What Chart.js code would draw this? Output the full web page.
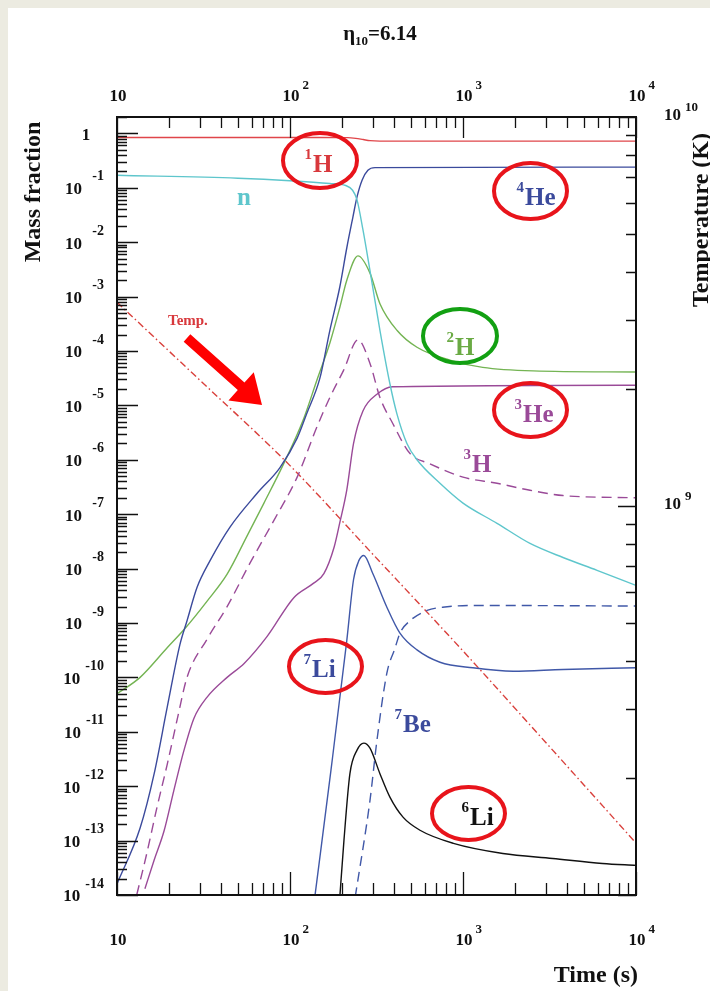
<!DOCTYPE html>
<html>
<head>
<meta charset="utf-8">
<title>BBN abundances</title>
<script src="https://cdn.jsdelivr.net/npm/chart.js@4.4.1/dist/chart.umd.min.js"></script>
<style>
    html, body { margin: 0; padding: 0; background: #ecebe1; }
    canvas { display: block; }
</style>
</head>
<body>
<canvas id="bbn" width="710" height="991"></canvas>
<script>
// ========================================
// Data: [time (s), mass fraction]
// ========================================
const hydrogen = [[10, 0.84], [150, 0.84], [215, 0.835], [240, 0.81], [265, 0.77], [290, 0.735], [330, 0.72], [10000, 0.72]];
const neutron = [[10, 0.17], [50, 0.15], [100, 0.135], [170, 0.12], [210, 0.11], [230, 0.09], [244, 0.06], [264, 0.017], [290, 3e-3],
    [331, 2.4e-4], [378, 2.5e-5], [415, 7e-6], [474, 2e-6], [542, 1e-6], [736, 3.7e-7], [1000, 1.6e-7], [1573, 6.8e-8],
    [2440, 2.9e-8], [3785, 1.6e-8], [5955, 9.3e-9], [10000, 4.9e-9]];
const helium4 = [[10, 1.6e-14], [13.6, 1.7e-13], [16.4, 1.7e-12], [19.5, 2.8e-11], [23.1, 4e-10], [25.4, 1.1e-9],
    [29, 4.5e-9], [34.5, 1.4e-8], [45, 5.8e-8], [64.4, 2.4e-7], [87.5, 7.2e-7], [110, 2.5e-6], [125, 7.1e-6], [149, 3.2e-5],
    [170, 2.4e-4], [194, 1.5e-3], [213, 7.9e-3], [231, 0.029], [244, 0.068], [261, 0.138], [282, 0.21], [310, 0.235], [10000, 0.24]];
const deuterium = [[10, 5e-11], [13.6, 1e-10], [19.5, 3.5e-10], [24.7, 7.9e-10], [33.1, 2.5e-9], [43.3, 7.9e-9], [56.5, 4e-8],
    [70.7, 1.6e-7], [92, 8.5e-7], [118.7, 5.2e-6], [143, 2.9e-5], [170, 1.4e-4], [194, 6.3e-4], [213, 2e-3], [247, 5.6e-3],
    [290, 2.7e-3], [331, 7.4e-4], [415, 2.4e-4], [542, 1.17e-4], [839, 6.8e-5], [1300, 5e-5], [2540, 4.3e-5], [10000, 4.1e-5]];
const tritium = [[13, 1e-14], [14.9, 6e-14], [17, 4e-13], [19.5, 2.5e-12], [22.2, 1.6e-11], [25.4, 1e-10], [33.1, 5e-10],
    [43.3, 2e-9], [58.7, 1.26e-8], [80.9, 7.8e-8], [110, 4.8e-7], [143, 4e-6], [170, 1.4e-5], [204, 4.4e-5], [247, 1.6e-4],
    [290, 5.9e-5], [331, 1.4e-5], [392, 4.7e-6], [494, 1.3e-6], [640, 8.5e-7], [1000, 4.8e-7], [1573, 3.7e-7], [2440, 2.75e-7],
    [3785, 2.2e-7], [10000, 2e-7]];
const helium3 = [[14.5, 1.3e-14], [16.4, 4.4e-14], [18.7, 1.5e-13], [21.3, 8.3e-13], [24.4, 4.6e-12], [27.9, 1.8e-11],
    [33.1, 4.3e-11], [43.3, 1e-10], [54.3, 1.8e-10], [73.6, 5.6e-10], [105.5, 2.95e-9], [137, 5.4e-9], [157, 8.1e-9],
    [180, 2.5e-8], [194, 7e-8], [213, 2.8e-7], [233, 2e-6], [264, 7.9e-6], [318, 1.6e-5], [392, 2.2e-5], [10000, 2.35e-5]];
const lithium7 = [[139, 9e-15], [172.6, 2e-12], [213, 4.8e-10], [233, 6.3e-9], [250, 1.4e-8], [267, 1.74e-8], [301, 8.1e-9],
    [363, 1.95e-9], [432, 6.5e-10], [542, 3.2e-10], [736, 1.9e-10], [1140, 1.5e-10], [1950, 1.3e-10], [3785, 1.4e-10], [10000, 1.5e-10]];
const beryllium7 = [[238, 9e-15], [290, 5.5e-13], [318, 6.9e-12], [363, 1.2e-10], [404, 3.4e-10], [432, 6.5e-10], [494, 1.1e-9],
    [620, 1.7e-9], [763, 1.95e-9], [1255, 2.1e-9], [10000, 2.05e-9]];
const lithium6 = [[194, 9e-15], [205, 1e-13], [222, 1.7e-12], [244, 4.6e-12], [267, 6.2e-12], [290, 5e-12], [331, 1.7e-12],
    [378, 6.3e-13], [450, 2.7e-13], [564, 1.55e-13], [880, 8.9e-14], [1700, 5.8e-14], [3300, 4.7e-14], [6400, 3.8e-14], [10000, 3.5e-14]];

// [time (s), temperature (K)]
const temperature = [[10, 3.34e9], [30, 2.11e9], [100, 1.27e9], [300, 7.53e8], [1000, 4.24e8], [3000, 2.47e8], [10000, 1.36e8]];

// Axis ranges and decade labels
const timeRange = [10, 10000];
const fractionRange = [1e-14, 2];
const tempRange = [1e8, 1e10];
const timeDecades = [10, 100, 1000, 10000];
const timeLabels = ['10', '10^2', '10^3', '10^4'];
const fractionDecades = [1, 1e-1, 1e-2, 1e-3, 1e-4, 1e-5, 1e-6, 1e-7, 1e-8, 1e-9, 1e-10, 1e-11, 1e-12, 1e-13, 1e-14];
const fractionLabels = ['1', '10^-1', '10^-2', '10^-3', '10^-4', '10^-5', '10^-6', '10^-7', '10^-8', '10^-9',
    '10^-10', '10^-11', '10^-12', '10^-13', '10^-14'];
const tempDecades = [1e10, 1e9];
const tempLabels = ['10^10', '10^9'];

// ========================================
// Styling
// ========================================
const SERIF = '"Liberation Serif", "DejaVu Serif", serif';
const BLUE = '#3b4a9c';
const PURPLE = '#9a4a98';

const seriesStyles = [
    { data: hydrogen, color: '#e0464a', dash: [] },
    { data: neutron, color: '#5ec6cc', dash: [] },
    { data: helium4, color: BLUE, dash: [] },
    { data: deuterium, color: '#74b453', dash: [] },
    { data: tritium, color: PURPLE, dash: [10, 6] },
    { data: helium3, color: PURPLE, dash: [] },
    { data: lithium7, color: '#4058a8', dash: [] },
    { data: beryllium7, color: '#4058a8', dash: [10, 6] },
    { data: lithium6, color: '#111111', dash: [] },
    { data: temperature, color: '#d9403c', dash: [7, 3, 1.5, 3], axis: 'yT' }
];

// Isotope labels: superscript, symbol, left x of symbol, baseline
const isotopeLabels = [
    { sup: '1', text: 'H', x: 313, y: 172, color: '#d8383c' },
    { sup: '4', text: 'He', x: 525, y: 205, color: BLUE },
    { sup: '2', text: 'H', x: 455, y: 355, color: '#6aaa44' },
    { sup: '3', text: 'He', x: 523, y: 422, color: PURPLE },
    { sup: '3', text: 'H', x: 472, y: 472, color: PURPLE },
    { sup: '7', text: 'Li', x: 312, y: 677, color: BLUE },
    { sup: '7', text: 'Be', x: 403, y: 732, color: BLUE },
    { sup: '6', text: 'Li', x: 470, y: 825, color: '#111111' },
    { sup: '', text: 'n', x: 237, y: 205, color: '#5ec6cc' }
];

const highlightRings = [
    { cx: 320, cy: 160.5, rx: 37, ry: 27.5, color: '#e8141b' },
    { cx: 530.5, cy: 191, rx: 36.5, ry: 28, color: '#e8141b' },
    { cx: 460, cy: 336, rx: 37, ry: 27, color: '#12a012' },
    { cx: 530.5, cy: 410, rx: 36.5, ry: 27, color: '#e8141b' },
    { cx: 325.5, cy: 666.5, rx: 36.5, ry: 26.5, color: '#e8141b' },
    { cx: 468.5, cy: 813.5, rx: 36.5, ry: 26.5, color: '#e8141b' }
];

/**
 * Build minor/major tick values for a log axis
 */
function logTicks(min, max) {
    const out = [];
    const e0 = Math.floor(Math.log10(min));
    const e1 = Math.ceil(Math.log10(max));
    for (let e = e0; e <= e1; e++) {
        for (let k = 1; k <= 9; k++) {
            const v = k * Math.pow(10, e);
            if (v >= min * 0.999 && v <= max * 1.001) out.push({ v, major: k === 1 });
        }
    }
    return out;
}

/**
 * Draw "10^n" style label. align: 'center' (base centred on x), 'right', 'left'
 */
function drawPower(ctx, label, x, y, align, baseSize, expSize, rise) {
    const [base, exp] = label.split('^');
    ctx.font = `bold ${baseSize}px ${SERIF}`;
    const bw = ctx.measureText(base).width;
    ctx.font = `bold ${expSize}px ${SERIF}`;
    const ew = exp ? ctx.measureText(exp).width : 0;
    let left, expLeft;
    if (align === 'center') {
        left = x - bw / 2;
        expLeft = left + bw + 3;
    } else if (align === 'right') {
        expLeft = x - ew;
        left = Math.min(x - 22, expLeft - 5) - bw;
    } else {
        left = x;
        expLeft = left + bw + 4;
    }
    ctx.textBaseline = 'middle';
    ctx.textAlign = 'left';
    ctx.font = `bold ${baseSize}px ${SERIF}`;
    ctx.fillText(base, left, y);
    if (exp) {
        ctx.font = `bold ${expSize}px ${SERIF}`;
        ctx.fillText(exp, expLeft, y - rise);
    }
}

// ========================================
// Plugins
// ========================================
const backdrop = {
    id: 'backdrop',
    beforeDraw(chart) {
        const ctx = chart.ctx;
        ctx.save();
        ctx.fillStyle = '#ecebe1';
        ctx.fillRect(0, 0, chart.width, chart.height);
        ctx.fillStyle = '#ffffff';
        ctx.fillRect(8, 8, chart.width - 8, chart.height - 8);
        ctx.restore();
    }
};

const axesFrame = {
    id: 'axesFrame',
    afterDatasetsDraw(chart) {
        const ctx = chart.ctx;
        const { left, right, top, bottom } = chart.chartArea;
        const sx = chart.scales.x, sy = chart.scales.y, st = chart.scales.yT;
        ctx.save();
        ctx.strokeStyle = '#111';
        ctx.fillStyle = '#111';

        // inward tick marks
        ctx.lineWidth = 1.3;
        ctx.beginPath();
        logTicks(timeRange[0], timeRange[1]).forEach(t => {
            const px = Math.round(sx.getPixelForValue(t.v)) + 0.5;
            ctx.moveTo(px, top); ctx.lineTo(px, top + (t.major ? 21 : 11));
            ctx.moveTo(px, bottom); ctx.lineTo(px, bottom - (t.major ? 23 : 12));
        });
        logTicks(fractionRange[0], fractionRange[1]).forEach(t => {
            const py = Math.round(sy.getPixelForValue(t.v)) + 0.5;
            ctx.moveTo(left, py); ctx.lineTo(left + (t.major ? 21 : 10), py);
        });
        logTicks(tempRange[0], tempRange[1]).forEach(t => {
            const py = Math.round(st.getPixelForValue(t.v)) + 0.5;
            ctx.moveTo(right, py); ctx.lineTo(right - (t.major ? 18 : 10), py);
        });
        ctx.stroke();

        // frame
        ctx.lineWidth = 2;
        ctx.strokeRect(left, top, right - left, bottom - top);

        // tick labels
        timeDecades.forEach((v, i) => {
            const px = sx.getPixelForValue(v);
            drawPower(ctx, timeLabels[i], px + 1, 97, 'center', 17, 13, 11);
            drawPower(ctx, timeLabels[i], px + 1, 941, 'center', 17, 13, 11);
        });
        fractionDecades.forEach((v, i) => {
            const py = sy.getPixelForValue(v);
            if (fractionLabels[i] === '1') drawPower(ctx, '1', 86, py + 2, 'center', 17, 13, 0);
            else drawPower(ctx, fractionLabels[i], 104, py + 2, 'right', 17, 14, 13);
        });
        tempDecades.forEach((v, i) => {
            const py = st.getPixelForValue(v);
            drawPower(ctx, tempLabels[i], 664, py - 1, 'left', 17, 13, 8);
        });

        // axis titles
        ctx.textBaseline = 'middle';
        ctx.font = `bold 24px ${SERIF}`;
        ctx.textAlign = 'right';
        ctx.fillText('Time (s)', 638, 976);
        ctx.textAlign = 'center';
        ctx.save();
        ctx.translate(34, 192);
        ctx.rotate(-Math.PI / 2);
        ctx.fillText('Mass fraction', 0, 0);
        ctx.restore();
        ctx.save();
        ctx.translate(702, 220);
        ctx.rotate(-Math.PI / 2);
        ctx.fillText('Temperature (K)', 0, 0);
        ctx.restore();

        // title: eta_10 = 6.14
        ctx.textAlign = 'left';
        ctx.textBaseline = 'alphabetic';
        ctx.font = `bold 21px ${SERIF}`;
        const wEta = ctx.measureText('\u03b7').width;
        const wVal = ctx.measureText('=6.14').width;
        ctx.font = `bold 13px ${SERIF}`;
        const wSub = ctx.measureText('10').width;
        const tx = 380 - (wEta + wSub + wVal) / 2;
        ctx.font = `bold 21px ${SERIF}`;
        ctx.fillText('\u03b7', tx, 40);
        ctx.font = `bold 13px ${SERIF}`;
        ctx.fillText('10', tx + wEta, 45);
        ctx.font = `bold 21px ${SERIF}`;
        ctx.fillText('=6.14', tx + wEta + wSub, 40);
        ctx.restore();
    }
};

const annotations = {
    id: 'annotations',
    afterDraw(chart) {
        const ctx = chart.ctx;
        ctx.save();

        // isotope labels
        ctx.textBaseline = 'alphabetic';
        isotopeLabels.forEach(l => {
            ctx.fillStyle = l.color;
            ctx.textAlign = 'left';
            ctx.font = `bold 25px ${SERIF}`;
            ctx.fillText(l.text, l.x, l.y);
            if (l.sup) {
                ctx.textAlign = 'right';
                ctx.font = `bold 15px ${SERIF}`;
                ctx.fillText(l.sup, l.x - 1, l.y - 13);
            }
        });

        ctx.fillStyle = '#d8383c';
        ctx.textAlign = 'left';
        ctx.font = `bold 15px ${SERIF}`;
        ctx.fillText('Temp.', 168, 325);

        // rings
        ctx.lineWidth = 4;
        highlightRings.forEach(r => {
            ctx.strokeStyle = r.color;
            ctx.beginPath();
            ctx.ellipse(r.cx, r.cy, r.rx, r.ry, 0, 0, Math.PI * 2);
            ctx.stroke();
        });

        // arrow pointing at the temperature curve
        const sx0 = 187, sy0 = 338, tipX = 262, tipY = 405;
        const len = Math.hypot(tipX - sx0, tipY - sy0);
        const ux = (tipX - sx0) / len, uy = (tipY - sy0) / len;
        const nx = -uy, ny = ux;
        const bx = tipX - 28 * ux, by = tipY - 28 * uy;
        ctx.fillStyle = '#ff0000';
        ctx.beginPath();
        ctx.moveTo(sx0 + 5 * nx, sy0 + 5 * ny);
        ctx.lineTo(bx + 5 * nx, by + 5 * ny);
        ctx.lineTo(bx + 19 * nx, by + 19 * ny);
        ctx.lineTo(tipX, tipY);
        ctx.lineTo(bx - 19 * nx, by - 19 * ny);
        ctx.lineTo(bx - 5 * nx, by - 5 * ny);
        ctx.lineTo(sx0 - 5 * nx, sy0 - 5 * ny);
        ctx.closePath();
        ctx.fill();
        ctx.restore();
    }
};

// ========================================
// Chart
// ========================================
const ctx = document.getElementById('bbn').getContext('2d');

new Chart(ctx, {
    type: 'line',
    data: {
        datasets: seriesStyles.map(s => ({
            data: s.data.map(([x, y]) => ({ x, y })),
            yAxisID: s.axis || 'y',
            borderColor: s.color,
            borderWidth: 1.4,
            borderDash: s.dash,
            pointRadius: 0,
            fill: false,
            cubicInterpolationMode: 'monotone'
        }))
    },
    options: {
        responsive: false,
        devicePixelRatio: 1,
        animation: false,
        layout: {
            padding: { left: 117, right: 74, top: 117, bottom: 96 }
        },
        scales: {
            x: { type: 'logarithmic', min: timeRange[0], max: timeRange[1], display: false },
            y: { type: 'logarithmic', min: fractionRange[0], max: fractionRange[1], display: false },
            yT: { type: 'logarithmic', position: 'right', min: tempRange[0], max: tempRange[1], display: false }
        },
        plugins: {
            legend: { display: false },
            tooltip: { enabled: false }
        }
    },
    plugins: [backdrop, axesFrame, annotations]
});
</script>
</body>
</html>
